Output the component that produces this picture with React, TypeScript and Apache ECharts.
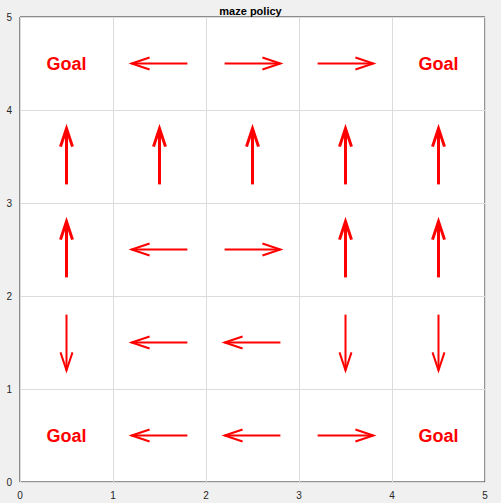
import * as echarts from "echarts";
import { useEffect, useRef } from "react";

const ticks = [0, 1, 2, 3, 4, 5];
// each cell: [x, y, action]
const cells: [number, number, string][] = [
  [0.5, 4.5, "goal"], [1.5, 4.5, "left"], [2.5, 4.5, "right"], [3.5, 4.5, "right"], [4.5, 4.5, "goal"],
  [0.5, 3.5, "up"], [1.5, 3.5, "up"], [2.5, 3.5, "up"], [3.5, 3.5, "up"], [4.5, 3.5, "up"],
  [0.5, 2.5, "up"], [1.5, 2.5, "left"], [2.5, 2.5, "right"], [3.5, 2.5, "up"], [4.5, 2.5, "up"],
  [0.5, 1.5, "down"], [1.5, 1.5, "left"], [2.5, 1.5, "left"], [3.5, 1.5, "down"], [4.5, 1.5, "down"],
  [0.5, 0.5, "goal"], [1.5, 0.5, "left"], [2.5, 0.5, "left"], [3.5, 0.5, "right"], [4.5, 0.5, "goal"],
];
const dirs: Record<string, [number, number]> = { up: [0, 1], down: [0, -1], left: [-1, 0], right: [1, 0] };

export default function App() {
  const ref = useRef<HTMLDivElement | null>(null);

  useEffect(() => {
    if (!ref.current) return;
    const chart = echarts.init(ref.current, null, { renderer: "svg" });
    const axis = {
      type: "value",
      min: ticks[0],
      max: ticks[ticks.length - 1],
      interval: 1,
      axisLine: { show: false },
      axisTick: { show: false },
      axisLabel: { color: "#262626", fontSize: 10, fontFamily: "Liberation Sans" },
      splitLine: { lineStyle: { color: "#dcdcdc" } },
    };
    chart.setOption({
      animation: false,
      backgroundColor: "#f0f0f0",
      title: {
        text: "maze policy",
        left: "center",
        top: 0,
        textStyle: { fontSize: 11, fontWeight: "bold", color: "#000", fontFamily: "Liberation Sans" },
      },
      grid: { left: 20, right: 16, top: 17, bottom: 21, show: true, backgroundColor: "#fff", borderColor: "#262626", borderWidth: 1 },
      xAxis: axis,
      yAxis: axis,
      series: [
        {
          type: "custom",
          data: cells,
          renderItem: (params: any, api: any) => {
            const x = api.value(0);
            const y = api.value(1);
            const a = cells[params.dataIndex][2];
            const c = api.coord([x, y]);
            if (a === "goal") {
              return {
                type: "text",
                style: {
                  text: "Goal", x: c[0], y: c[1], align: "center", verticalAlign: "middle",
                  fill: "#ff0000", fontSize: 18, fontWeight: "bold", fontFamily: "Liberation Sans",
                },
              };
            }
            const [dx, dy] = dirs[a];
            const p0 = api.coord([x - 0.3 * dx, y - 0.3 * dy]);
            const p1 = api.coord([x + 0.3 * dx, y + 0.3 * dy]);
            const ux = p1[0] - p0[0];
            const uy = p1[1] - p0[1];
            const len = Math.hypot(ux, uy);
            const nx = ux / len, ny = uy / len;
            const hl = 18, hw = 6;
            const bx = p1[0] - nx * hl, by = p1[1] - ny * hl;
            const w = a === "up" ? 3 : 2;
            const style = { stroke: "#ff0000", lineWidth: w, fill: "none" };
            return {
              type: "group",
              children: [
                { type: "line", shape: { x1: p0[0], y1: p0[1], x2: p1[0], y2: p1[1] }, style },
                {
                  type: "polyline",
                  shape: { points: [[bx - ny * hw, by + nx * hw], [p1[0], p1[1]], [bx + ny * hw, by - nx * hw]] },
                  style,
                },
              ],
            };
          },
        },
      ],
    });
    return () => chart.dispose();
  }, []);

  return <div ref={ref} style={{ position: "fixed", left: 0, top: 0, width: 501, height: 503 }} />;
}
